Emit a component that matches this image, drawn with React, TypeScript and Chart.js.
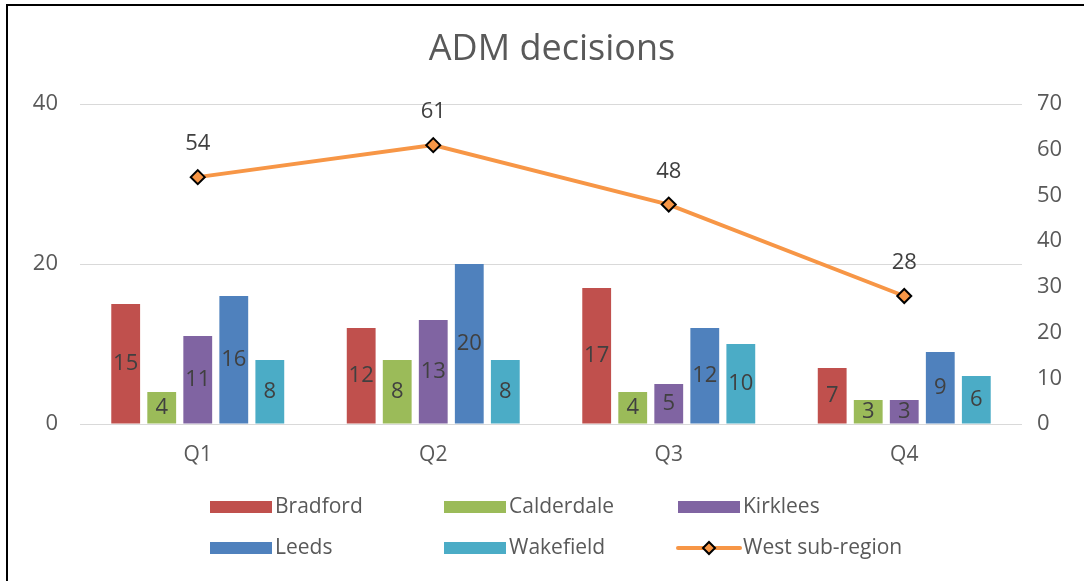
import React, { useEffect, useRef } from "react";
import { Chart, registerables } from "chart.js";

Chart.register(...registerables);

const categories = ["Q1", "Q2", "Q3", "Q4"];
const bradford = [15, 12, 17, 7];
const calderdale = [4, 8, 4, 3];
const kirklees = [11, 13, 5, 3];
const leeds = [16, 20, 12, 9];
const wakefield = [8, 8, 10, 6];
const westSubRegion = [54, 61, 48, 28];
const leftTicks = [0, 20, 40];
const rightTicks = [0, 10, 20, 30, 40, 50, 60, 70];

const FONT = "'Open Sans', 'Noto Sans', sans-serif";

const barSeries = [
  { label: "Bradford", data: bradford, color: "#C0504D" },
  { label: "Calderdale", data: calderdale, color: "#9BBB59" },
  { label: "Kirklees", data: kirklees, color: "#8064A2" },
  { label: "Leeds", data: leeds, color: "#4F81BD" },
  { label: "Wakefield", data: wakefield, color: "#4BACC6" },
];
const lineColor = "#F79646";

const decorPlugin = {
  id: "decor",
  afterDatasetsDraw(chart: any) {
    const ctx = chart.ctx;
    ctx.save();
    ctx.fillStyle = "#404040";
    ctx.font = `22px ${FONT}`;
    ctx.textAlign = "center";
    ctx.textBaseline = "middle";
    chart.data.datasets.forEach((ds: any, i: number) => {
      const meta = chart.getDatasetMeta(i);
      meta.data.forEach((el: any, j: number) => {
        const v = ds.data[j];
        if (ds.type === "line") {
          ctx.fillText(String(v), el.x, el.y - 33);
        } else {
          const cy = (el.y + el.base) / 2;
          ctx.fillText(String(v), el.x, cy);
        }
      });
    });
    ctx.restore();
  },
  afterDraw(chart: any) {
    const ctx = chart.ctx;
    ctx.save();
    // frame
    ctx.strokeStyle = "#000";
    ctx.lineWidth = 2;
    ctx.beginPath();
    ctx.moveTo(7, 600);
    ctx.lineTo(7, 5);
    ctx.lineTo(1084, 5);
    ctx.stroke();
    // title
    ctx.fillStyle = "#595959";
    ctx.font = `36px ${FONT}`;
    ctx.textAlign = "center";
    ctx.textBaseline = "middle";
    ctx.fillText("ADM decisions", 552, 50);
    // legend
    const items = [
      ...barSeries.map((s) => ({ label: s.label, color: s.color, line: false })),
      { label: "West sub-region", color: lineColor, line: true },
    ];
    const cols = [210, 444, 678];
    const rows = [507, 548];
    ctx.font = `21px ${FONT}`;
    ctx.textAlign = "left";
    items.forEach((it, k) => {
      const x = cols[k % 3];
      const y = rows[Math.floor(k / 3)];
      if (it.line) {
        ctx.strokeStyle = it.color;
        ctx.lineWidth = 4;
        ctx.lineCap = "round";
        ctx.beginPath();
        ctx.moveTo(x, y);
        ctx.lineTo(x + 62, y);
        ctx.stroke();
        const cx = x + 31;
        ctx.beginPath();
        ctx.moveTo(cx, y - 6);
        ctx.lineTo(cx + 6, y);
        ctx.lineTo(cx, y + 6);
        ctx.lineTo(cx - 6, y);
        ctx.closePath();
        ctx.fillStyle = it.color;
        ctx.fill();
        ctx.strokeStyle = "#000";
        ctx.lineWidth = 2;
        ctx.stroke();
      } else {
        ctx.fillStyle = it.color;
        ctx.fillRect(x, y - 6, 62, 12);
      }
      ctx.fillStyle = "#595959";
      ctx.fillText(it.label, x + 65, y);
    });
    ctx.restore();
  },
};

export default function App() {
  const ref = useRef<HTMLCanvasElement>(null);
  useEffect(() => {
    if (!ref.current) return;
    const datasets: any[] = [
      {
        type: "line",
        label: "West sub-region",
        data: westSubRegion,
        yAxisID: "y2",
        borderColor: lineColor,
        backgroundColor: lineColor,
        borderWidth: 4,
        pointStyle: "rectRot",
        pointRadius: 7,
        pointBackgroundColor: lineColor,
        pointBorderColor: "#000",
        pointBorderWidth: 2,
        tension: 0,
        order: 0,
      },
      ...barSeries.map((s) => ({
        type: "bar",
        label: s.label,
        data: s.data,
        yAxisID: "y",
        backgroundColor: s.color,
        borderWidth: 0,
        categoryPercentage: 0.765,
        barPercentage: 0.8,
        order: 1,
      })),
    ];
    const chart = new Chart(ref.current, {
      type: "bar",
      data: { labels: categories, datasets },
      plugins: [decorPlugin],
      options: {
        animation: false,
        responsive: false,
        maintainAspectRatio: false,
        layout: { padding: { top: 104, bottom: 97, left: 0, right: 0 } },
        plugins: {
          legend: { display: false },
          title: { display: false },
          tooltip: { enabled: false },
        },
        scales: {
          x: {
            offset: true,
            grid: { display: false },
            border: { display: false },
            ticks: {
              color: "#595959",
              font: { family: FONT, size: 21 },
              padding: 10,
            },
            afterFit: (s: any) => {
              s.height = 60;
            },
          },
          y: {
            position: "left",
            min: 0,
            max: 40,
            afterBuildTicks: (s: any) => {
              s.ticks = leftTicks.map((v) => ({ value: v }));
            },
            grid: { color: "#D9D9D9", drawTicks: false, lineWidth: 1 },
            border: { display: false },
            ticks: {
              color: "#595959",
              font: { family: FONT, size: 22 },
              padding: 22,
            },
            afterFit: (s: any) => {
              s.width = 80;
            },
          },
          y2: {
            position: "right",
            min: 0,
            max: 70,
            afterBuildTicks: (s: any) => {
              s.ticks = rightTicks.map((v) => ({ value: v }));
            },
            grid: { display: false, drawTicks: false },
            border: { display: false },
            ticks: {
              color: "#595959",
              font: { family: FONT, size: 22 },
              padding: 15,
            },
            afterFit: (s: any) => {
              s.width = 69;
            },
          },
        },
      },
    });
    return () => chart.destroy();
  }, []);
  return (
    <div style={{ position: "absolute", left: 0, top: 0, width: 1091, height: 581, background: "#fff" }}>
      <canvas ref={ref} width={1091} height={581} style={{ display: "block", width: 1091, height: 581 }} />
    </div>
  );
}
